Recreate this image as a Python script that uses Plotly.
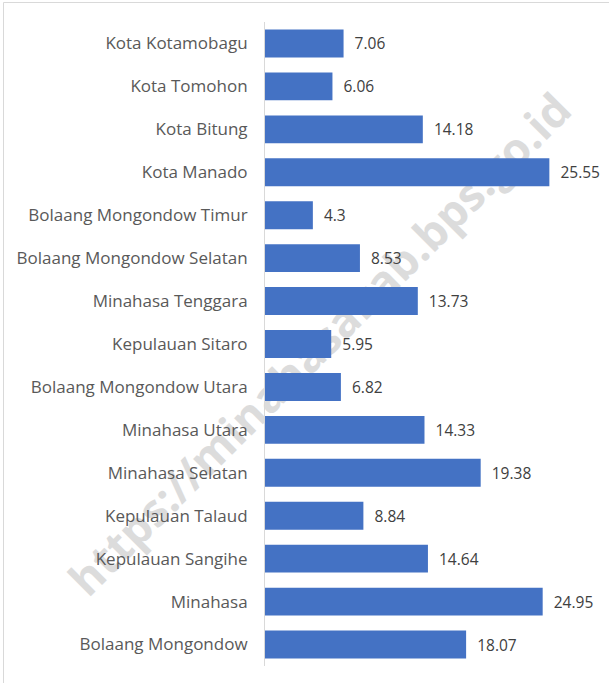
import plotly.graph_objects as go

categories = [
    "Kota Kotamobagu", "Kota Tomohon", "Kota Bitung", "Kota Manado",
    "Bolaang Mongondow Timur", "Bolaang Mongondow Selatan", "Minahasa Tenggara",
    "Kepulauan Sitaro", "Bolaang Mongondow Utara", "Minahasa Utara",
    "Minahasa Selatan", "Kepulauan Talaud", "Kepulauan Sangihe", "Minahasa",
    "Bolaang Mongondow",
]
values = [7.06, 6.06, 14.18, 25.55, 4.3, 8.53, 13.73, 5.95, 6.82, 14.33,
          19.38, 8.84, 14.64, 24.95, 18.07]
value_labels = ["7.06", "6.06", "14.18", "25.55", "4.3", "8.53", "13.73", "5.95",
                "6.82", "14.33", "19.38", "8.84", "14.64", "24.95", "18.07"]
watermark = "https://minahasakab.bps.go.id"

W, H = 609, 683
ML, MR, MT, MB = 265, 9, 22, 17
PW, PH = W - ML - MR, H - MT - MB

def px_x(x):
    return (x - ML) / PW

def px_y(y):
    return (H - MB - y) / PH

fig = go.Figure()
fig.add_trace(go.Bar(
    y=categories, x=values, orientation="h",
    marker=dict(color="#4472C4", line=dict(width=0)),
    text=["  " + t for t in value_labels], textposition="outside",
    textfont=dict(family="Open Sans", size=15.5, color="#404040"),
    cliponaxis=False, hoverinfo="skip",
))

fig.update_layout(
    width=W, height=H,
    margin=dict(l=ML, r=MR, t=MT, b=MB, pad=0),
    paper_bgcolor="white", plot_bgcolor="white",
    bargap=0.35, showlegend=False,
    font=dict(family="Open Sans", color="#595959"),
    xaxis=dict(range=[0, 30.1], visible=False, fixedrange=True),
    yaxis=dict(autorange="reversed", showgrid=False, zeroline=False,
               showline=True, linecolor="#d9d9d9", linewidth=1,
               ticks="", ticklabelstandoff=13, fixedrange=True,
               tickfont=dict(family="Open Sans", size=17, color="#595959")),
    shapes=[
        dict(type="line", xref="paper", yref="paper", layer="below",
             x0=px_x(91), y0=px_y(625), x1=px_x(594), y1=px_y(115),
             line=dict(width=0, color="rgba(0,0,0,0)"),
             label=dict(text=watermark, textangle=-45, textposition="middle",
                        font=dict(family="Open Sans", size=45, color="#dcdcdc",
                                  weight="bold"))),
        dict(type="rect", xref="paper", yref="paper", layer="below",
             x0=px_x(3.5), y0=px_y(2.5), x1=px_x(640), y1=px_y(720),
             line=dict(width=1, color="#d9d9d9"), fillcolor="rgba(0,0,0,0)"),
    ],
)

fig.write_html("out.html", config={"displayModeBar": False},
               post_script="document.body.style.margin='0';")
